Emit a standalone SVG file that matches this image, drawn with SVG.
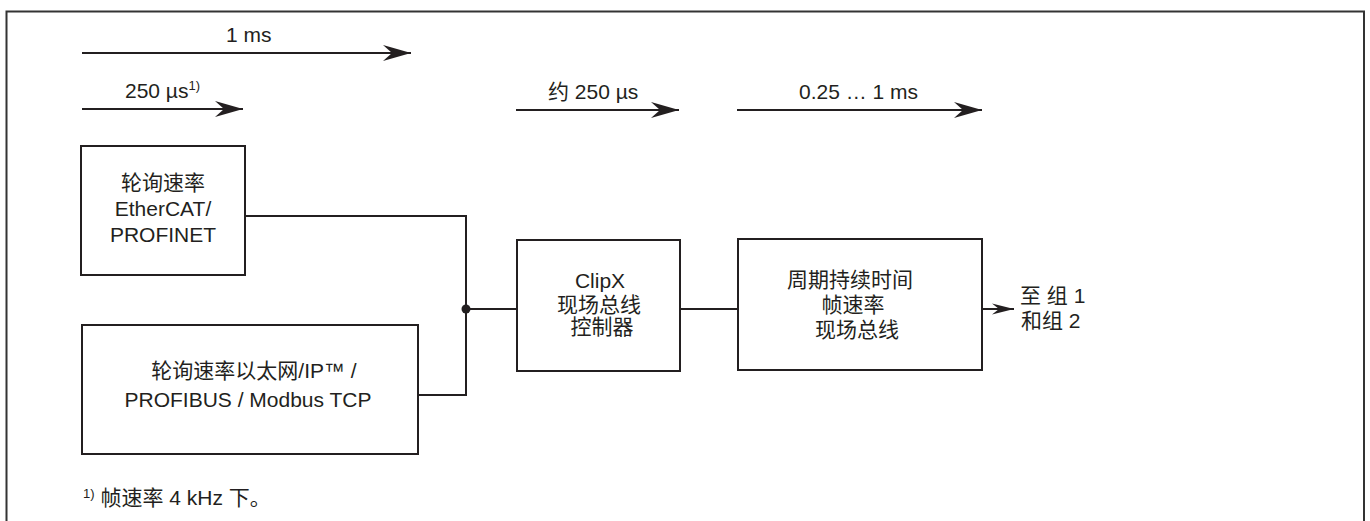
<svg xmlns="http://www.w3.org/2000/svg" width="1370" height="521" viewBox="0 0 1370 521">
<defs>
<style>
text{font-family:"Liberation Sans",Arial,"Noto Sans CJK SC",sans-serif;font-size:21px;fill:#231f20}
.box{fill:none;stroke:#231f20;stroke-width:2}
.ln{fill:none;stroke:#231f20;stroke-width:2}
.sup{font-size:13px}
</style>
<marker id="ah" markerWidth="28" markerHeight="18" refX="28" refY="9" orient="auto" markerUnits="userSpaceOnUse">
<path d="M0,1 L28,9 L0,17 L9,9 Z" fill="#231f20"/>
</marker>
<marker id="ahs" markerWidth="22" markerHeight="12" refX="22" refY="6" orient="auto" markerUnits="userSpaceOnUse">
<path d="M0,0.5 L22,6 L0,11.5 L7,6 Z" fill="#231f20"/>
</marker>
</defs>
<rect width="1370" height="521" fill="#ffffff"/>
<path d="M6.5,521 V11.5 H1364 V521" fill="none" stroke="#333" stroke-width="2"/>

<g id="timing">
<line class="ln" x1="82" y1="53" x2="411" y2="53" marker-end="url(#ah)"/>
<text x="226" y="42">1 ms</text>
<line class="ln" x1="82" y1="109" x2="243" y2="109" marker-end="url(#ah)"/>
<text x="125" y="98">250 µs<tspan class="sup" dy="-8">1)</tspan></text>
<line class="ln" x1="516" y1="110" x2="679" y2="110" marker-end="url(#ah)"/>
<text x="548" y="99">约 250 µs</text>
<line class="ln" x1="737" y1="110" x2="982" y2="110" marker-end="url(#ah)"/>
<text x="799" y="99">0.25 … 1 ms</text>
</g>

<g id="connectors">
<polyline class="ln" points="245,216 466,216 466,395 418,395"/>
<line class="ln" x1="466" y1="309" x2="517" y2="309"/>
<circle cx="466" cy="309" r="4.5" fill="#231f20"/>
<line class="ln" x1="680" y1="309" x2="738" y2="309"/>
<line class="ln" x1="982" y1="309" x2="1014" y2="309" marker-end="url(#ahs)"/>
</g>

<g id="node-ethercat">
<rect class="box" x="81" y="146" width="164" height="129"/>
<text x="163" y="190" text-anchor="middle">轮询速率</text>
<text x="163" y="216" text-anchor="middle">EtherCAT/</text>
<text x="163" y="242" text-anchor="middle">PROFINET</text>
</g>

<g id="node-ethernetip">
<rect class="box" x="82" y="325" width="336" height="129"/>
<text x="254" y="378" text-anchor="middle">轮询速率以太网/IP™ /</text>
<text x="248" y="407" text-anchor="middle">PROFIBUS / Modbus TCP</text>
</g>

<g id="node-clipx">
<rect class="box" x="517" y="240" width="163" height="131"/>
<text x="600" y="288" text-anchor="middle">ClipX</text>
<text x="599" y="312" text-anchor="middle">现场总线</text>
<text x="602" y="334" text-anchor="middle">控制器</text>
</g>

<g id="node-cycle">
<rect class="box" x="738" y="239" width="244" height="131"/>
<text x="850" y="287" text-anchor="middle">周期持续时间</text>
<text x="853" y="312" text-anchor="middle">帧速率</text>
<text x="857" y="337" text-anchor="middle">现场总线</text>
</g>

<g id="output-label">
<text x="1020" y="303">至 组 1</text>
<text x="1021" y="328">和组 2</text>
</g>

<g id="footnote">
<text x="83" y="505"><tspan class="sup" dy="-7">1)</tspan><tspan dy="7"> 帧速率 4 kHz 下。</tspan></text>
</g>
</svg>
